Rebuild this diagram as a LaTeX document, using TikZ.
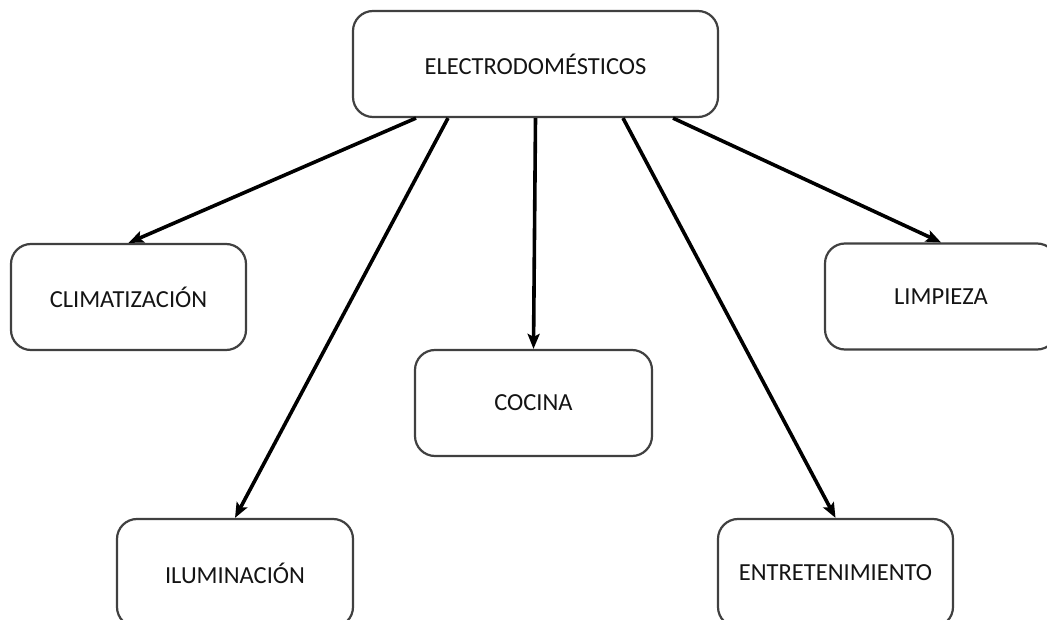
\documentclass[tikz,border=0pt]{standalone}
\usepackage{fontspec}
\setmainfont{Carlito}
\usetikzlibrary{arrows.meta}
\definecolor{boxline}{HTML}{404040}
\definecolor{txt}{HTML}{141414}
\tikzset{
  catbox/.style={draw=boxline, line width=2.2pt, rounded corners=20pt, fill=white,
    minimum width=#1, minimum height=106pt, inner sep=0pt,
    font=\fontsize{24.5}{28}\selectfont, text=txt},
  catbox/.default=235pt,
  link/.style={line width=3.6pt, black, -{Stealth[length=15pt,width=12pt,inset=3pt]}}
}
\begin{document}
\begin{tikzpicture}[x=1pt,y=-1pt]
\useasboundingbox (0,0) rectangle (1047,620);
\clip (0,0) rectangle (1047,620);
\node[catbox=365pt] (top) at (535.5,64) {ELECTRODOMÉSTICOS};
\node[catbox] (clim) at (128.5,297) {CLIMATIZACIÓN};
\node[catbox=232pt] (limp) at (941,296.5) {LIMPIEZA};
\node[catbox=237pt] (coc) at (533.5,403) {COCINA};
\node[catbox=236pt, minimum height=108pt] (ilum) at (235,573) {ILUMINACIÓN};
\node[catbox, minimum height=108pt] (ent) at (835.5,573) {ENTRETENIMIENTO};
\coordinate (s1) at ([xshift=-119.5pt]top.south);
\coordinate (s2) at ([xshift=-87.5pt]top.south);
\coordinate (s3) at (top.south);
\coordinate (s4) at ([xshift=87.5pt]top.south);
\coordinate (s5) at ([xshift=137.5pt]top.south);
\draw[link] (s1) -- (clim.north);
\draw[link] (s2) -- (ilum.north);
\draw[link] (s3) -- (coc.north);
\draw[link] (s4) -- (ent.north);
\draw[link] (s5) -- (limp.north);
\end{tikzpicture}
\end{document}
